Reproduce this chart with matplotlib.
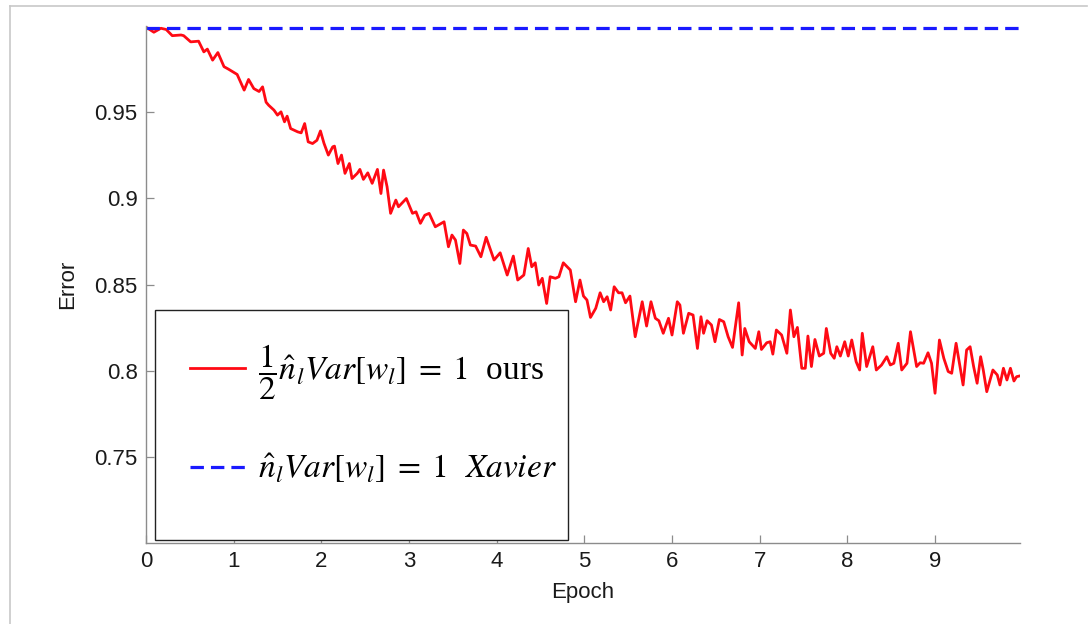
import matplotlib
matplotlib.use("Agg")
import matplotlib.pyplot as plt
from matplotlib.patches import Rectangle
from matplotlib.lines import Line2D

# Red curve: "ours" (1/2 n Var[w] = 1), error vs epoch
ours_epoch = [
    0.02, 0.09, 0.17, 0.23, 0.30, 0.40, 0.43, 0.51, 0.60, 0.66, 0.70, 0.76, 0.82, 0.89, 0.94,
    1.04, 1.12, 1.17, 1.23, 1.29, 1.33, 1.37, 1.40, 1.46, 1.50, 1.54, 1.58, 1.61, 1.65, 1.73,
    1.77, 1.81, 1.85, 1.90, 1.95, 1.99, 2.03, 2.08, 2.13, 2.15, 2.19, 2.23, 2.27, 2.32, 2.35,
    2.41, 2.44, 2.48, 2.53, 2.58, 2.64, 2.68, 2.71, 2.75, 2.79, 2.85, 2.88, 2.97, 3.04, 3.08,
    3.13, 3.18, 3.23, 3.30, 3.40, 3.45, 3.49, 3.53, 3.58, 3.62, 3.66, 3.70, 3.76, 3.82, 3.88,
    3.97, 4.04, 4.12, 4.19, 4.24, 4.31, 4.36, 4.40, 4.44, 4.48, 4.52, 4.57, 4.61, 4.67, 4.71,
    4.76, 4.84, 4.90, 4.95, 4.99, 5.03, 5.07, 5.13, 5.18, 5.22, 5.26, 5.30, 5.34, 5.39, 5.43,
    5.47, 5.52, 5.58, 5.66, 5.71, 5.76, 5.81, 5.85, 5.90, 5.96, 6.00, 6.06, 6.09, 6.13, 6.19,
    6.24, 6.29, 6.33, 6.36, 6.40, 6.45, 6.49, 6.54, 6.59, 6.64, 6.69, 6.76, 6.80, 6.83, 6.88,
    6.95, 6.99, 7.02, 7.08, 7.12, 7.15, 7.19, 7.25, 7.31, 7.35, 7.39, 7.43, 7.48, 7.52, 7.55,
    7.59, 7.63, 7.68, 7.73, 7.76, 7.81, 7.85, 7.88, 7.92, 7.97, 8.01, 8.05, 8.10, 8.14, 8.17,
    8.22, 8.29, 8.33, 8.39, 8.45, 8.49, 8.53, 8.58, 8.62, 8.68, 8.72, 8.79, 8.83, 8.87, 8.92,
    8.96, 9.00, 9.05, 9.10, 9.15, 9.19, 9.24, 9.32, 9.36, 9.40, 9.44, 9.48, 9.52, 9.55, 9.59,
    9.66, 9.71, 9.74, 9.78, 9.82, 9.86, 9.90, 9.93, 9.97,
]
ours_error = [
    0.9987, 0.9964, 0.9987, 0.9980, 0.9944, 0.9948, 0.9944, 0.9908, 0.9912, 0.9850, 0.9866, 0.9802, 0.9846, 0.9764, 0.9750,
    0.9719, 0.9628, 0.9690, 0.9637, 0.9620, 0.9647, 0.9558, 0.9540, 0.9512, 0.9483, 0.9502, 0.9444, 0.9477, 0.9405, 0.9386,
    0.9380, 0.9434, 0.9328, 0.9318, 0.9337, 0.9391, 0.9320, 0.9251, 0.9299, 0.9303, 0.9202, 0.9251, 0.9145, 0.9202, 0.9115,
    0.9145, 0.9168, 0.9110, 0.9148, 0.9087, 0.9168, 0.9028, 0.9164, 0.9067, 0.8913, 0.8990, 0.8951, 0.8999, 0.8913, 0.8922,
    0.8855, 0.8902, 0.8913, 0.8835, 0.8864, 0.8719, 0.8787, 0.8758, 0.8622, 0.8816, 0.8796, 0.8729, 0.8723, 0.8661, 0.8774,
    0.8642, 0.8684, 0.8555, 0.8665, 0.8526, 0.8555, 0.8709, 0.8603, 0.8626, 0.8497, 0.8536, 0.8390, 0.8545, 0.8536, 0.8545,
    0.8626, 0.8584, 0.8400, 0.8526, 0.8433, 0.8410, 0.8309, 0.8362, 0.8452, 0.8400, 0.8429, 0.8352, 0.8487, 0.8452, 0.8452,
    0.8394, 0.8433, 0.8197, 0.8400, 0.8259, 0.8400, 0.8304, 0.8290, 0.8217, 0.8304, 0.8207, 0.8400, 0.8381, 0.8217, 0.8333,
    0.8323, 0.8129, 0.8313, 0.8217, 0.8290, 0.8265, 0.8168, 0.8297, 0.8284, 0.8197, 0.8135, 0.8394, 0.8091, 0.8245, 0.8168,
    0.8129, 0.8226, 0.8123, 0.8162, 0.8168, 0.8096, 0.8236, 0.8207, 0.8101, 0.8352, 0.8197, 0.8251, 0.8014, 0.8014, 0.8201,
    0.8024, 0.8181, 0.8085, 0.8101, 0.8245, 0.8101, 0.8072, 0.8139, 0.8085, 0.8168, 0.8085, 0.8178, 0.8052, 0.8004, 0.8217,
    0.8024, 0.8139, 0.8004, 0.8033, 0.8081, 0.8033, 0.8043, 0.8159, 0.8004, 0.8043, 0.8226, 0.8024, 0.8046, 0.8043, 0.8104,
    0.8043, 0.7869, 0.8178, 0.8072, 0.7995, 0.7985, 0.8159, 0.7917, 0.8120, 0.8139, 0.8024, 0.7927, 0.8081, 0.8004, 0.7878,
    0.8004, 0.7975, 0.7917, 0.8014, 0.7946, 0.8014, 0.7940, 0.7965, 0.7970,
]

# Blue dashed: Xavier, stays flat near 1
xavier_epoch = [0.0, 9.97]
xavier_error = [0.999, 0.999]

yticks = [0.75, 0.8, 0.85, 0.9, 0.95]
ytick_labels = ["0.75", "0.8", "0.85", "0.9", "0.95"]
xticks = [0, 1, 2, 3, 4, 5, 6, 7, 8, 9]

label_ours = r"$\dfrac{1}{2}\hat{n}_l Var[w_l] \;=\; 1$  ours"
label_xavier = r"$\hat{n}_l Var[w_l] \;=\; 1$  $Xavier$"

plt.rcParams["font.family"] = ["Liberation Sans", "DejaVu Sans"]
plt.rcParams["mathtext.fontset"] = "stix"

fig = plt.figure(figsize=(10.91, 6.24), dpi=100)
ax = fig.add_axes([0.1338, 0.1298, 0.8012, 0.8285])

ax.plot(ours_epoch, ours_error, color="#ff0a14", lw=2.0, label=label_ours)
ax.plot(xavier_epoch, xavier_error, color="#1a1aff", lw=2.3,
        dashes=(4.2, 2.2), label=label_xavier)

ax.set_xlim(0, 9.97)
ax.set_ylim(0.70, 1.0)
ax.set_xticks(xticks)
ax.set_yticks(yticks)
ax.set_yticklabels(ytick_labels)

for side in ["top", "right"]:
    ax.spines[side].set_visible(False)
for side in ["left", "bottom"]:
    ax.spines[side].set_color("#8c8c8c")
    ax.spines[side].set_linewidth(1.0)
ax.tick_params(direction="in", length=6, width=0.9, color="#8c8c8c",
               labelsize=16, labelcolor="#1a1a1a", pad=6)

ax.set_xlabel("Epoch", fontsize=16, color="#1a1a1a", labelpad=7)
ax.set_ylabel("Error", fontsize=16, color="#1a1a1a", labelpad=12)

# legend box, MATLAB style
box = Rectangle((0.0103, 0.0058), 0.4725, 0.445, transform=ax.transAxes,
                facecolor="white", edgecolor="#222222", lw=1.0, zorder=5)
ax.add_patch(box)
leg = ax.legend(loc="upper left", bbox_to_anchor=(0.05, 0.388),
                frameon=False, borderpad=0, borderaxespad=0,
                handlelength=1.65, handletextpad=0.4, labelspacing=1.5,
                prop={"family": "Liberation Serif", "size": 24})
leg.set_zorder(6)

# thin gray page frame
fig.add_artist(Line2D([10, 1087], [618, 618], transform=None, color="#c8c8c8", lw=1.2))
fig.add_artist(Line2D([10, 10], [0, 618], transform=None, color="#c8c8c8", lw=1.2))

fig.savefig("out.png", dpi=100)
